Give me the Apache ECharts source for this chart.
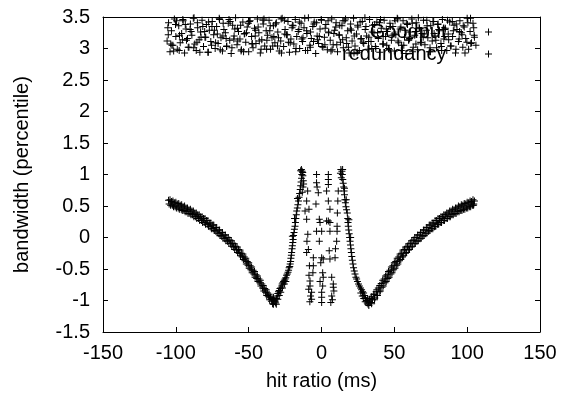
<!DOCTYPE html>
<html>
<head>
<meta charset="utf-8">
<script src="https://cdn.jsdelivr.net/npm/echarts@6/dist/echarts.min.js"></script>
<style>
html,body{margin:0;padding:0;background:#fff;}
#chart{width:563px;height:396px;}
</style>
</head>
<body>
<div id="chart"></div>
<script>
// ---- data ----
const seriesNames = ["Goodput", "redundancy"];
const xTicks = [-150, -100, -50, 0, 50, 100, 150];
const yTicks = [-1.5, -1, -0.5, 0, 0.5, 1, 1.5, 2, 2.5, 3, 3.5];

// lower curve: left outer branch
const leftOuter = [[-105,0.59],[-104.6,0.53],[-103,0.57],[-102.4,0.51],[-101,0.55],[-100.5,0.49],[-99,0.53],[-98.4,0.47],[-97,0.51],[-96.3,0.45],[-95,0.49],[-94.4,0.43],[-93,0.47],[-92.5,0.41],[-91,0.44],[-90.3,0.38],[-89,0.42],[-88.5,0.36],[-87,0.39],[-86.4,0.33],[-85,0.36],[-84.5,0.30],[-83,0.33],[-82.4,0.27],[-81,0.30],[-80.5,0.24],[-79,0.27],[-78.4,0.21],[-77,0.23],[-76.5,0.17],[-75,0.20],[-74.4,0.14],[-73,0.16],[-72.5,0.10],[-71,0.12],[-70.4,0.06],[-69,0.08],[-68.5,0.02],[-67,0.04],[-66.4,-0.02],[-65,0.00],[-64.5,-0.06],[-63,-0.04],[-62.4,-0.10],[-61,-0.09],[-60.5,-0.15],[-59,-0.14],[-58.4,-0.20],[-57,-0.19],[-56.5,-0.25],[-55,-0.25],[-54.4,-0.31],[-53,-0.31],[-52.5,-0.37],[-51,-0.38],[-50.4,-0.44],[-49,-0.45],[-48.5,-0.51],[-47,-0.52],[-46.4,-0.58],[-45,-0.59],[-44.5,-0.65],[-43,-0.66],[-42.4,-0.72],[-41,-0.74],[-40.5,-0.80],[-39,-0.81],[-38.4,-0.87],[-37,-0.88],[-36.5,-0.94],[-35,-0.95],[-34.4,-1.01],[-33.5,-0.99],[-33,-1.06],[-32,-1.02]];
const leftOuterB = [[-104,0.60],[-103.6,0.51],[-102,0.58],[-101.6,0.49],[-100,0.56],[-99.6,0.47],[-98,0.54],[-97.6,0.45],[-96,0.52],[-95.6,0.43],[-94,0.50],[-93.6,0.41],[-92,0.47],[-91.6,0.38],[-90,0.45],[-89.6,0.36],[-88,0.42],[-87.6,0.33],[-86,0.39],[-85.6,0.30],[-84,0.36],[-83.6,0.27],[-82,0.33],[-81.6,0.24],[-80,0.30],[-79.6,0.21],[-78,0.27],[-77.6,0.18],[-76,0.23],[-75.6,0.14],[-74,0.20],[-73.6,0.11],[-72,0.16],[-71.6,0.07],[-70,0.12],[-69.6,0.03],[-68,0.08],[-67.6,-0.01],[-66,0.04],[-65.6,-0.05],[-64,0.00],[-63.6,-0.09],[-62,-0.05],[-61.6,-0.14],[-60,-0.10],[-59.6,-0.19],[-58,-0.15],[-57.6,-0.24],[-56,-0.20],[-55.6,-0.29],[-54,-0.26],[-53.6,-0.35],[-52,-0.33],[-51.6,-0.42],[-50,-0.40],[-49.6,-0.49],[-48,-0.47],[-47.6,-0.56],[-46,-0.54],[-45.6,-0.63],[-44,-0.61],[-43.6,-0.70],[-42,-0.68],[-41.6,-0.77],[-40,-0.76],[-39.6,-0.85],[-38,-0.83],[-37.6,-0.92],[-36,-0.90],[-35.6,-0.99],[-34,-0.97],[-33.6,-1.05]];
// lower curve: left inner branch
const leftInner = [[-31.5,-1.04],[-31,-0.97],[-30.5,-0.93],[-30,-0.89],[-29.5,-0.86],[-29,-0.84],[-28.5,-0.81],[-28,-0.80],[-27.3,-0.77],[-27,-0.74],[-26.5,-0.72],[-26,-0.70],[-25.5,-0.68],[-25,-0.66],[-24.5,-0.64],[-24,-0.60],[-23.5,-0.58],[-23,-0.55],[-22.6,-0.52],[-22.2,-0.48],[-21.8,-0.46],[-21.5,-0.42],[-21.2,-0.38],[-21,-0.33],[-20.7,-0.28],[-20.5,-0.24],[-20.2,-0.18],[-20,-0.13],[-19.7,-0.08],[-19.5,-0.03],[-19.2,0.03],[-18.9,0.08],[-18.6,0.13],[-18.2,0.18],[-17.9,0.24],[-17.6,0.30],[-17.3,0.36],[-17,0.42],[-16.6,0.47],[-16.2,0.52],[-15.8,0.58],[-15.4,0.64],[-15,0.70],[-14.6,0.76],[-14.3,0.82],[-14,0.88],[-13.7,0.94],[-13.5,1.00],[-13.3,1.05],[-13.8,1.08],[-12.8,0.98],[-12.5,0.90],[-12.7,0.80],[-13.2,0.72]];
// extra points around the minima and the peaks
const bandExtra = [[-33,-0.95],[-32.5,-1.0],[-31,-1.06],[-30,-0.98],[-29,-0.92],[-28,-0.87],[-26.8,-0.80],[-25.5,-0.74],[-24.5,-0.70],[30,-1.02],[29,-0.97],[28,-0.93],[27,-0.88],[31.5,-0.97],[32.5,-1.08],[-14.3,1.06],[-12.9,1.03],[13,1.02],[14.5,1.08],[-12.3,0.85],[15.8,0.78],[-16.5,0.62],[-18.5,0.30],[-20,0.02],[17,0.60],[18.8,0.28],[20,0.0]];
// lower curve: central scattered points
const centre = [[-9.5,0.74],[-10.2,0.58],[-8.6,0.45],[-11.3,0.42],[-10.2,0.29],[-9.4,0.05],[-10,-0.06],[-9,-0.19],[-10.2,-0.24],[-8.3,-0.45],[-8.6,-0.60],[-7.9,-0.69],[-7.9,-0.77],[-8.8,-0.82],[-6.8,-0.87],[-7.5,-0.93],[-6.8,-0.98],[-8.0,-1.02],[-3.4,1.00],[-3.4,0.87],[-3.0,0.80],[-2.2,0.71],[-3.8,0.53],[-1.5,0.29],[-1.0,0.24],[-3.4,0.10],[-5.6,-0.32],[-5.6,-0.45],[-5.9,-0.56],[-1.5,-0.06],[-0.5,-0.40],[0.1,0.10],[0.1,-0.32],[1.2,-0.34],[0.8,-0.56],[1.2,-0.63],[0.8,-0.77],[0.1,-0.87],[0.1,-0.95],[0.1,-1.03],[-1.0,-0.70],[4.7,1.00],[4.7,0.92],[4.7,0.84],[3.5,0.74],[4.7,0.58],[5.8,0.45],[3.5,0.26],[4.7,0.26],[5.8,0.24],[5.8,0.10],[5.3,-0.21],[5.8,-0.34],[7.0,-0.63],[8.1,-0.74],[8.1,-0.79],[7.0,-0.93],[6.4,-1.03],[7.5,-0.99],[8.5,-0.85],[11.5,0.74],[10.9,0.39],[10.7,0.18],[10.7,0.10],[10.4,-0.06],[9.3,-0.32],[9.6,-0.18],[11.2,0.58]];
// lower curve: right inner branch
const rightInner = [[13.3,1.08],[14,1.05],[14.3,1.00],[13.6,0.95],[14.6,0.92],[14.9,0.86],[15.2,0.80],[15.5,0.74],[15.8,0.68],[16.1,0.60],[16.4,0.55],[16.8,0.49],[17.2,0.44],[17.7,0.39],[18,0.30],[18.2,0.24],[18.4,0.18],[18.7,0.12],[19,0.06],[19.3,0.00],[19.6,-0.06],[19.9,-0.12],[20.2,-0.18],[20.5,-0.24],[20.8,-0.30],[21.2,-0.36],[21.6,-0.42],[22,-0.48],[22.5,-0.53],[23,-0.58],[23.6,-0.63],[24.1,-0.66],[24.7,-0.70],[25.4,-0.74],[26,-0.77],[26.8,-0.80],[27.5,-0.83],[28.2,-0.86],[28.9,-0.88],[29.6,-0.92],[30.2,-0.96],[30.8,-1.00],[31.4,-1.04],[32,-1.06]];
// lower curve: right outer branch
const rightOuter = [[32.6,-1.02],[33,-0.98],[33.8,-1.03],[34.5,-0.94],[35,-0.99],[36,-0.90],[36.6,-0.96],[37.5,-0.86],[38,-0.92],[39,-0.80],[39.6,-0.86],[41,-0.73],[41.5,-0.79],[43,-0.66],[43.6,-0.72],[45,-0.59],[45.5,-0.65],[47,-0.52],[47.6,-0.58],[49,-0.45],[49.5,-0.51],[51,-0.38],[51.6,-0.44],[53,-0.31],[53.5,-0.37],[55,-0.25],[55.6,-0.31],[57,-0.19],[57.5,-0.25],[59,-0.14],[59.6,-0.20],[61,-0.09],[61.5,-0.15],[63,-0.04],[63.6,-0.10],[65,0.00],[65.5,-0.06],[67,0.04],[67.6,-0.02],[69,0.08],[69.5,0.02],[71,0.12],[71.6,0.06],[73,0.16],[73.5,0.10],[75,0.20],[75.6,0.14],[77,0.23],[77.5,0.17],[79,0.27],[79.6,0.21],[81,0.30],[81.5,0.24],[83,0.33],[83.6,0.27],[85,0.36],[85.5,0.30],[87,0.39],[87.6,0.33],[89,0.42],[89.5,0.36],[91,0.44],[91.6,0.38],[93,0.47],[93.5,0.41],[95,0.49],[95.6,0.43],[97,0.51],[97.5,0.45],[99,0.53],[99.6,0.47],[101,0.55],[101.5,0.49],[103,0.57],[103.6,0.51],[105,0.58],[104.5,0.53]];
const rightOuterB = [[34,-0.97],[34.4,-1.05],[36,-0.90],[36.4,-0.99],[38,-0.83],[38.4,-0.92],[40,-0.76],[40.4,-0.85],[42,-0.68],[42.4,-0.77],[44,-0.61],[44.4,-0.70],[46,-0.54],[46.4,-0.63],[48,-0.47],[48.4,-0.56],[50,-0.40],[50.4,-0.49],[52,-0.33],[52.4,-0.42],[54,-0.26],[54.4,-0.35],[56,-0.20],[56.4,-0.29],[58,-0.15],[58.4,-0.24],[60,-0.10],[60.4,-0.19],[62,-0.05],[62.4,-0.14],[64,0.00],[64.4,-0.09],[66,0.04],[66.4,-0.05],[68,0.08],[68.4,-0.01],[70,0.12],[70.4,0.03],[72,0.16],[72.4,0.07],[74,0.20],[74.4,0.11],[76,0.23],[76.4,0.14],[78,0.27],[78.4,0.18],[80,0.30],[80.4,0.21],[82,0.33],[82.4,0.24],[84,0.36],[84.4,0.27],[86,0.39],[86.4,0.30],[88,0.42],[88.4,0.33],[90,0.45],[90.4,0.36],[92,0.47],[92.4,0.38],[94,0.50],[94.4,0.41],[96,0.52],[96.4,0.43],[98,0.54],[98.4,0.45],[100,0.56],[100.4,0.47],[102,0.58],[102.4,0.49],[104,0.60],[104.4,0.51]];

// upper cloud (first sweep)
const cloudA = [[-106,3.12],[-105,3.41],[-104,2.95],[-103,3.28],[-102,3.05],[-101,3.47],[-100,3.19],[-99,2.99],[-98,3.36],[-97,3.09],
[-96,3.24],[-95,3.44],[-94,2.93],[-93,3.31],[-92,3.16],[-91,3.02],[-90,3.39],[-89,3.21],[-88,3.48],[-87,3.07],
[-86,2.97],[-85,3.33],[-84,3.14],[-83,3.26],[-82,3.45],[-81,3.03],[-80,3.18],[-79,3.38],[-78,2.94],[-77,3.29],
[-76,3.11],[-75,3.43],[-74,3.22],[-73,3.00],[-72,3.35],[-71,3.08],[-70,3.46],[-69,3.17],[-68,2.96],[-67,3.30],
[-66,3.25],[-65,3.04],[-64,3.40],[-63,3.13],[-62,2.92],[-61,3.37],[-60,3.20],[-59,3.49],[-58,3.06],[-57,3.27],
[-56,3.15],[-55,2.98],[-54,3.42],[-53,3.23],[-52,3.10],[-51,3.34],[-50,2.95],[-49,3.44],[-48,3.19],[-47,3.01],
[-46,3.32],[-45,3.08],[-44,3.47],[-43,3.25],[-42,2.93],[-41,3.14],[-40,3.39],[-39,3.04],[-38,3.28],[-37,3.21],
[-36,3.45],[-35,2.99],[-34,3.17],[-33,3.36],[-32,3.09],[-31,3.41],[-30,3.26],[-29,2.96],[-28,3.12],[-27,3.48],
[-26,3.03],[-25,3.30],[-24,3.22],[-23,3.43],[-22,2.94],[-21,3.15],[-20,3.37],[-19,3.07],[-18,3.46],[-17,3.19],
[-16,3.27],[-15,3.00],[-14,3.40],[-13,3.11],[-12,3.33],[-11,2.97],[-10,3.24],[-9,3.49],[-8,3.05],[-7,3.16],
[-6,3.35],[-5,3.42],[-4,2.92],[-3,3.20],[-2,3.08],[-1,3.31],[0,3.45],[1,3.02],[2,3.18],[3,3.38],
[4,2.98],[5,3.26],[6,3.13],[7,3.47],[8,3.06],[9,3.29],[10,3.41],[11,2.95],[12,3.22],[13,3.10],
[14,3.36],[15,3.01],[16,3.44],[17,3.17],[18,3.28],[19,2.93],[20,3.39],[21,3.12],[22,3.48],[23,3.04],
[24,3.23],[25,3.34],[26,2.97],[27,3.15],[28,3.43],[29,3.08],[30,3.30],[31,3.20],[32,2.99],[33,3.46],
[34,3.11],[35,3.37],[36,3.25],[37,3.03],[38,3.42],[39,3.16],[40,2.94],[41,3.32],[42,3.07],[43,3.45],
[44,3.19],[45,3.27],[46,3.00],[47,3.40],[48,3.13],[49,3.35],[50,2.96],[51,3.22],[52,3.48],[53,3.09],
[54,3.31],[55,3.05],[56,3.44],[57,3.18],[58,2.92],[59,3.38],[60,3.14],[61,3.26],[62,3.47],[63,3.02],
[64,3.21],[65,3.41],[66,2.98],[67,3.33],[68,3.10],[69,3.24],[70,3.45],[71,3.06],[72,3.29],[73,3.17],
[74,2.95],[75,3.36],[76,3.12],[77,3.43],[78,3.20],[79,3.01],[80,3.39],[81,3.28],[82,3.08],[83,3.46],
[84,3.15],[85,3.32],[86,2.97],[87,3.23],[88,3.42],[89,3.04],[90,3.19],[91,3.37],[92,2.93],[93,3.30],
[94,3.11],[95,3.44],[96,3.25],[97,3.02],[98,3.34],[99,3.16],[100,3.48],[101,2.99],[102,3.27],[103,3.09],
[104,3.40],[105,3.18],[106,3.05]];
// upper cloud (second sweep)
const cloudB = [[-105.5,3.33],[-103.5,3.07],[-101.5,2.96],[-99.5,3.44],[-97.5,3.21],[-95.5,3.14],[-93.5,3.38],[-91.5,3.02],[-89.5,3.27],[-87.5,3.49],
[-85.5,3.10],[-83.5,2.94],[-81.5,3.35],[-79.5,3.18],[-77.5,3.42],[-75.5,3.05],[-73.5,3.29],[-71.5,3.23],[-69.5,2.98],[-67.5,3.40],
[-65.5,3.16],[-63.5,3.46],[-61.5,3.01],[-59.5,3.31],[-57.5,3.12],[-55.5,3.37],[-53.5,2.95],[-51.5,3.25],[-49.5,3.43],[-47.5,3.08],
[-45.5,3.20],[-43.5,3.34],[-41.5,2.99],[-39.5,3.47],[-37.5,3.13],[-35.5,3.28],[-33.5,3.04],[-31.5,3.39],[-29.5,3.17],[-27.5,2.93],
[-25.5,3.45],[-23.5,3.22],[-21.5,3.09],[-19.5,3.36],[-17.5,3.00],[-15.5,3.30],[-13.5,3.15],[-11.5,3.48],[-9.5,2.97],[-7.5,3.26],
[-5.5,3.11],[-3.5,3.41],[-1.5,3.19],[0.5,3.03],[2.5,3.32],[4.5,3.44],[6.5,2.96],[8.5,3.24],[10.5,3.06],[12.5,3.37],
[14.5,3.14],[16.5,3.47],[18.5,3.02],[20.5,3.29],[22.5,3.20],[24.5,2.94],[26.5,3.42],[28.5,3.10],[30.5,3.35],[32.5,3.18],
[34.5,3.00],[36.5,3.38],[38.5,3.25],[40.5,3.46],[42.5,3.07],[44.5,3.31],[46.5,2.98],[48.5,3.21],[50.5,3.44],[52.5,3.12],
[54.5,3.34],[56.5,3.05],[58.5,3.40],[60.5,3.16],[62.5,2.95],[64.5,3.27],[66.5,3.49],[68.5,3.09],[70.5,3.23],[72.5,3.36],
[74.5,3.01],[76.5,3.43],[78.5,3.13],[80.5,3.30],[82.5,2.97],[84.5,3.19],[86.5,3.45],[88.5,3.04],[90.5,3.28],[92.5,3.39],
[94.5,3.15],[96.5,3.22],[98.5,2.93],[100.5,3.41],[102.5,3.08],[104.5,3.33]];
// upper cloud (third sweep)
const cloudC = [[-105.2,3.22],[-102.7,3.05],[-100.2,3.38],[-97.7,2.97],[-95.2,3.46],[-92.7,3.13],[-90.2,3.30],[-87.7,3.01],[-85.2,3.41],[-82.7,3.18],
[-80.2,3.27],[-77.7,2.94],[-75.2,3.35],[-72.7,3.09],[-70.2,3.48],[-67.7,3.20],[-65.2,3.03],[-62.7,3.43],[-60.2,3.15],[-57.7,3.32],
[-55.2,2.96],[-52.7,3.24],[-50.2,3.40],[-47.7,3.07],[-45.2,3.29],[-42.7,3.12],[-40.2,3.45],[-37.7,2.99],[-35.2,3.36],[-32.7,3.19],
[-30.2,3.04],[-27.7,3.47],[-25.2,3.23],[-22.7,3.10],[-20.2,3.33],[-17.7,2.95],[-15.2,3.42],[-12.7,3.17],[-10.2,3.28],[-7.7,3.02],
[-5.2,3.39],[-2.7,3.14],[-0.2,3.46],[2.3,3.06],[4.8,3.25],[7.3,2.98],[9.8,3.34],[12.3,3.21],[14.8,3.44],[17.3,3.08],
[19.8,3.31],[22.3,2.93],[24.8,3.37],[27.3,3.16],[29.8,3.49],[32.3,3.11],[34.8,3.26],[37.3,3.00],[39.8,3.41],[42.3,3.19],
[44.8,3.05],[47.3,3.35],[49.8,3.23],[52.3,3.47],[54.8,2.97],[57.3,3.29],[59.8,3.13],[62.3,3.40],[64.8,3.07],[67.3,3.32],
[69.8,3.18],[72.3,3.45],[74.8,2.95],[77.3,3.24],[79.8,3.38],[82.3,3.03],[84.8,3.30],[87.3,3.14],[89.8,3.43],[92.3,2.99],
[94.8,3.27],[97.3,3.36],[99.8,3.10],[102.3,3.48],[104.8,3.21]];

// ---- chart ----
const FONT = "'Liberation Sans', Arial, Helvetica, sans-serif";
const FS = 20;
const PLUS = 'path://M3,0H4V3H7V4H4V7H3V4H0V3H3Z';
const goodput = [].concat(leftOuter, leftOuterB, leftInner, bandExtra, centre, rightInner, rightOuter, rightOuterB);
const redundancy = [].concat(cloudA, cloudB, cloudC);

const axisLine = {show: true, onZero: false, lineStyle: {color: '#000', width: 1}};
const axisTick = {show: true, inside: true, length: 5, lineStyle: {color: '#000', width: 1}};

const chart = echarts.init(document.getElementById('chart'), null, {renderer: 'canvas'});
chart.setOption({
  animation: false,
  backgroundColor: '#fff',
  textStyle: {fontFamily: FONT, color: '#000'},
  grid: {left: 103, right: 23, top: 17, bottom: 63, containLabel: false},
  legend: {
    orient: 'vertical', right: 71, top: 22, align: 'right', padding: 0,
    itemWidth: 74, itemHeight: 7, itemGap: 2,
    textStyle: {fontFamily: FONT, fontSize: FS, lineHeight: 20, color: '#000'},
    data: seriesNames.map(n => ({name: n, icon: PLUS, itemStyle: {color: '#000'}})),
    selectedMode: false
  },
  xAxis: [{
    type: 'value', position: 'bottom', min: xTicks[0], max: xTicks[xTicks.length-1], interval: 50,
    name: 'hit ratio (ms)', nameLocation: 'middle', nameGap: 39,
    nameTextStyle: {fontFamily: FONT, fontSize: FS, color: '#000'},
    axisLine, axisTick, splitLine: {show: false},
    axisLabel: {fontFamily: FONT, fontSize: FS, color: '#000', margin: 11}
  }, {
    type: 'value', position: 'top', min: xTicks[0], max: xTicks[xTicks.length-1], interval: 50,
    axisLine, axisTick, splitLine: {show: false}, axisLabel: {show: false}
  }],
  yAxis: [{
    type: 'value', position: 'left', min: yTicks[0], max: yTicks[yTicks.length-1], interval: 0.5,
    name: 'bandwidth (percentile)', nameLocation: 'middle', nameGap: 71,
    nameTextStyle: {fontFamily: FONT, fontSize: FS, color: '#000'},
    axisLine, axisTick, splitLine: {show: false},
    axisLabel: {fontFamily: FONT, fontSize: FS, color: '#000', margin: 13}
  }, {
    type: 'value', position: 'right', min: yTicks[0], max: yTicks[yTicks.length-1], interval: 0.5,
    axisLine, axisTick, splitLine: {show: false}, axisLabel: {show: false}
  }],
  series: [{
    name: seriesNames[0], type: 'scatter', data: goodput,
    symbol: PLUS, symbolSize: 7, itemStyle: {color: '#000', opacity: 1}
  }, {
    name: seriesNames[1], type: 'scatter', data: redundancy,
    symbol: PLUS, symbolSize: 7, itemStyle: {color: '#000', opacity: 1}
  }]
});
</script>
</body>
</html>
